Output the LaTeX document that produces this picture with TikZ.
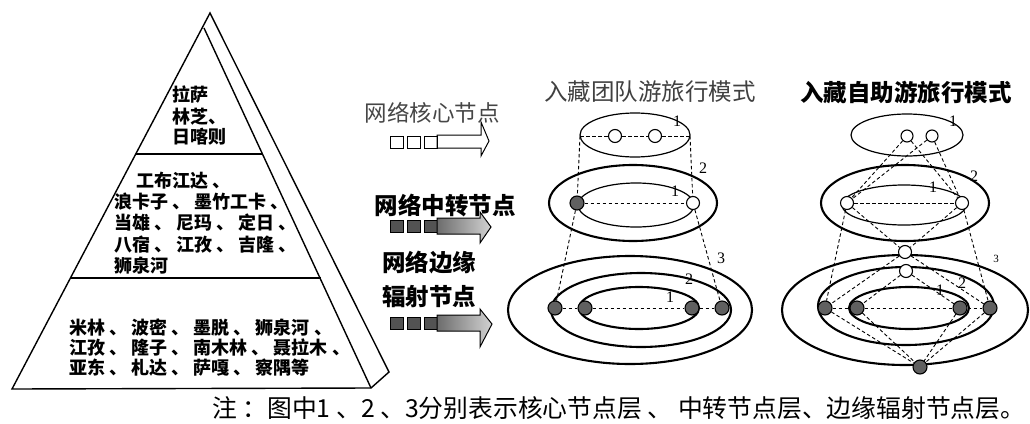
\documentclass[tikz,border=0pt]{standalone}
\usepackage{fontspec}
\setmainfont{Noto Sans CJK SC}
\newfontfamily\digitfont{Liberation Serif}
\begin{document}
\begin{tikzpicture}[x=1pt,y=-1pt,
  ring/.style={line width=2.1pt},
  thinring/.style={line width=1.2pt},
  dashl/.style={line width=0.9pt, dash pattern=on 3.5pt off 2.5pt},
  onode/.style={circle, draw, line width=1.1pt, fill=white, minimum size=13pt, inner sep=0pt},
  fnode/.style={circle, draw, line width=1.1pt, fill=gray!75!black, minimum size=14pt, inner sep=0pt},
  pyr/.style={font=\fontsize{18}{20}\selectfont\bfseries, anchor=west, inner sep=0pt},
  lbl/.style={font=\digitfont\fontsize{16}{16}\selectfont, inner sep=0pt},
  sq/.style={draw, line width=1pt, minimum width=13pt, minimum height=12pt, inner sep=0pt},
  dsq/.style={sq, fill=gray!65!black},
  legtext/.style={font=\fontsize{23.5}{26}\selectfont\bfseries, inner sep=0pt},
]
\useasboundingbox (0,0) rectangle (1030,423);

% ---------------- pyramid ----------------
\coordinate (apex) at (210,13);
\coordinate (ifront) at (204,28);
\coordinate (bl) at (12,389);
\coordinate (br) at (371,388);
\coordinate (bo) at (389,372);
\draw[line width=1.4pt] (bl) -- (apex) -- (bo) -- (br) -- cycle;
\draw[line width=1.4pt] (ifront) -- (br);
\draw[line width=1.7pt] (136,154) -- (263,154);
\draw[line width=1.7pt] (71,278) -- (321,278);

\node[pyr] (p1) at (172,95) {拉萨};
\node[pyr] (p2) at (172,117) {林芝、};
\node[pyr] (p3) at (172,137) {日喀则};

\node[pyr] (p4) at (136,181) {工布江达 、};
\node[pyr] (p5) at (114,202) {浪卡子 、 墨竹工卡 、};
\node[pyr] (p6) at (114,223) {当雄 、 尼玛 、 定日 、};
\node[pyr] (p7) at (114,245) {八宿 、 江孜 、 吉隆 、};
\node[pyr] (p8) at (114,266) {狮泉河};

\node[pyr] (p9) at (69,328) {米林 、 波密 、 墨脱 、 狮泉河 、};
\node[pyr] (p10) at (69,348) {江孜 、 隆子 、 南木林 、 聂拉木 、};
\node[pyr] (p11) at (69,368) {亚东 、 札达 、 萨嘎 、 察隅等};

% ---------------- legend ----------------
\node[font=\fontsize{22.5}{24}\selectfont, text=gray!55!black, inner sep=0pt] (lg1) at (432,113) {网络核心节点};
\node[sq] (a1) at (396.5,142) {};
\node[sq] (a2) at (413.5,142) {};
\node[sq] (a3) at (430.5,142) {};
\draw[line width=1pt] (437,135) -- (481,135) -- (481,122) -- (489,141) -- (481,156) -- (481,148) -- (437,148) -- cycle;

\node[legtext] (lg2) at (445,205) {网络中转节点};
\node[dsq] (b1) at (396.5,226) {};
\node[dsq] (b2) at (413.5,226) {};
\node[dsq] (b3) at (430.5,226) {};
\draw[line width=1pt, left color=gray!85!black, right color=gray!35] (437,218) -- (480,218) -- (480,212) -- (491,227) -- (480,243) -- (480,234) -- (437,234) -- cycle;

\node[legtext] (lg3) at (429,263) {网络边缘};
\node[legtext] (lg4) at (429,297) {辐射节点};
\node[dsq] (c1) at (396.5,323) {};
\node[dsq] (c2) at (413.5,323) {};
\node[dsq] (c3) at (430.5,323) {};
\draw[line width=1pt, left color=gray!85!black, right color=gray!35] (437,315) -- (480,315) -- (480,309) -- (492,324) -- (480,347) -- (480,331) -- (437,331) -- cycle;

% ---------------- team travel mode ----------------
\node[font=\fontsize{23.5}{26}\selectfont, text=gray!50!black, inner sep=0pt] (tt1) at (650,92) {入藏团队游旅行模式};

\draw[thinring] (635,135) ellipse [x radius=55pt, y radius=22pt];
\draw[ring] (633,203) ellipse [x radius=84pt, y radius=38pt];
\draw[thinring] (636,205) ellipse [x radius=58pt, y radius=22pt];
\draw[ring] (630,310) ellipse [x radius=122pt, y radius=54pt];
\draw[ring] (641,310) ellipse [x radius=90pt, y radius=37pt];
\draw[ring] (639,308) ellipse [x radius=60pt, y radius=21pt];

\coordinate (tl) at (580,136);
\coordinate (tr) at (690,136);
\node[onode] (t1) at (615,136) {};
\node[onode] (t2) at (655,136) {};
\node[fnode] (m1) at (577,203) {};
\node[onode] (m2) at (693,203) {};
\node[fnode] (g1) at (555,308) {};
\node[fnode] (g2) at (585,308) {};
\node[fnode] (g3) at (692,308) {};
\node[fnode] (g4) at (722,308) {};

\draw[dashl] (tl) -- (t1) (t1) -- (t2) (t2) -- (tr);
\draw[dashl] (tl) -- (m1);
\draw[dashl] (tr) -- (m2);
\draw[dashl] (m1) -- (m2);
\draw[dashl] (m1) -- (g1);
\draw[dashl] (m2) -- (g4);
\draw[dashl] (g1) -- (g2) (g2) -- (g3) (g3) -- (g4);

\node[lbl] (n1) at (677,121) {1};
\node[lbl] (n2) at (675,191) {1};
\node[lbl] (n3) at (703,168) {2};
\node[lbl] (n4) at (721,258) {3};
\node[lbl] (n5) at (689,279) {2};
\node[lbl] (n6) at (670,297) {1};

% ---------------- self-guided mode ----------------
\node[font=\fontsize{23.5}{26}\selectfont\bfseries, inner sep=0pt] (tt2) at (906,92) {入藏自助游旅行模式};

\draw[thinring] (907,135) ellipse [x radius=56pt, y radius=21pt];
\draw[ring] (905,203) ellipse [x radius=84pt, y radius=38pt];
\draw[thinring] (904,205) ellipse [x radius=62pt, y radius=20pt];
\draw[ring] (905,310) ellipse [x radius=123pt, y radius=55pt];
\draw[ring] (906,306) ellipse [x radius=88pt, y radius=39pt];
\draw[ring] (909,308) ellipse [x radius=60pt, y radius=21pt];

\node[onode, minimum size=12pt] (s1) at (907,136) {};
\node[onode, minimum size=12pt] (s2) at (932,136) {};
\node[onode] (r1) at (847,203) {};
\node[onode] (r2) at (962,203) {};
\node[onode] (k1) at (905,252) {};
\node[onode] (k2) at (906,271) {};
\node[fnode] (q1) at (825,308) {};
\node[fnode] (q2) at (857,308) {};
\node[fnode] (q3) at (960,308) {};
\node[fnode] (q4) at (990,308) {};
\node[fnode] (q5) at (920,367) {};

\draw[dashl] (s1) -- (r1) (s1) -- (r2) (s2) -- (r1) (s2) -- (r2);
\draw[dashl] (r1) -- (r2);
\draw[dashl] (r1) -- (q1) (r2) -- (q4);
\draw[dashl] (r1) -- (k1) (r2) -- (k1);
\draw[dashl] (k1) -- (q1) (k1) -- (q4);
\draw[dashl] (k2) -- (q2) (k2) -- (q3);
\draw[dashl] (q1) -- (q2) (q2) -- (q3) (q3) -- (q4);
\draw[dashl] (q1) -- (q5) (q2) -- (q5) (q3) -- (q5) (q4) -- (q5);

\node[lbl] (e1) at (953,121) {1};
\node[lbl] (e2) at (933,187) {1};
\node[lbl] (e3) at (974,176) {2};
\node[lbl, font=\digitfont\fontsize{11}{11}\selectfont] (e4) at (996,259) {3};
\node[lbl] (e5) at (962,283) {2};
\node[lbl] (e6) at (940,290) {1};

% ---------------- note ----------------
\node[font=\fontsize{24.8}{27}\selectfont, anchor=west, inner sep=0pt] (note) at (212,408) {注 ：图中1 、2 、3分别表示核心节点层 、 中转节点层、边缘辐射节点层。};
\end{tikzpicture}
\end{document}
